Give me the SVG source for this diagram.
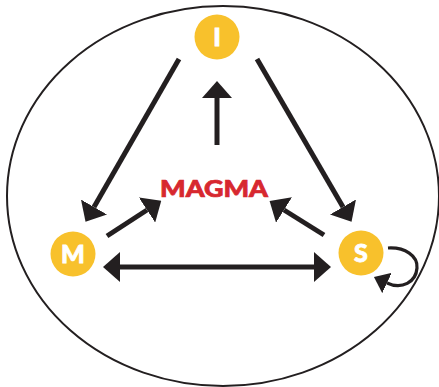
<svg xmlns="http://www.w3.org/2000/svg" width="439" height="387" viewBox="0 0 439 387">
<style>
.node{fill:#f8c12c}
.lbl{fill:#fff;stroke:#fff;stroke-width:0.8;font-family:Lato,"Liberation Sans",sans-serif;font-weight:900;font-size:25px;text-anchor:middle}
.edge{stroke:#231f20;stroke-width:5;fill:none}
.loop{stroke:#231f20;stroke-width:3.2;fill:none}
</style>
<defs>
<marker id="ah" viewBox="0 0 10 10" refX="0" refY="5" markerWidth="3.4" markerHeight="6" markerUnits="strokeWidth" orient="auto-start-reverse" preserveAspectRatio="none">
<path d="M0,0 L10,5 L0,10 Z" fill="#231f20"/>
</marker>
<marker id="ahs" viewBox="0 0 10 10" refX="0" refY="5" markerWidth="4.5" markerHeight="7" markerUnits="strokeWidth" orient="auto" preserveAspectRatio="none">
<path d="M0,0 L10,5 L0,10 Z" fill="#231f20"/>
</marker>
</defs>
<ellipse cx="223" cy="196" rx="216" ry="190" fill="none" stroke="#231f20" stroke-width="2"/>
<g id="connectors">
<line class="edge" x1="179" y1="59" x2="94" y2="207" marker-end="url(#ah)"/>
<line class="edge" x1="257" y1="59" x2="343" y2="207" marker-end="url(#ah)"/>
<line class="edge" x1="217" y1="145" x2="217" y2="98" marker-end="url(#ah)"/>
<line class="edge" x1="107" y1="236" x2="147" y2="210" marker-end="url(#ah)"/>
<line class="edge" x1="324" y1="235" x2="284" y2="210" marker-end="url(#ah)"/>
<line class="edge" x1="120" y1="267" x2="314" y2="267" marker-start="url(#ah)" marker-end="url(#ah)"/>
<path class="loop" d="M388,248 C405,247 418,256 417,268 C416,282 402,290 387,283" marker-end="url(#ahs)"/>
</g>
<g id="node-I"><circle class="node" cx="217" cy="37" r="22.5"/><text class="lbl" x="217" y="46">I</text></g>
<g id="node-M"><circle class="node" cx="73" cy="254" r="22.5"/><text class="lbl" x="73" y="263">M</text></g>
<g id="node-S"><circle class="node" cx="361" cy="253" r="22.5"/><text class="lbl" x="361" y="262">S</text></g>
<g id="node-MAGMA"><text x="214" y="197" font-family="Lato,'Liberation Sans',sans-serif" font-weight="900" font-size="23" fill="#d7282f" stroke="#d7282f" stroke-width="0.7" text-anchor="middle" textLength="108" lengthAdjust="spacingAndGlyphs">MAGMA</text></g>
</svg>
